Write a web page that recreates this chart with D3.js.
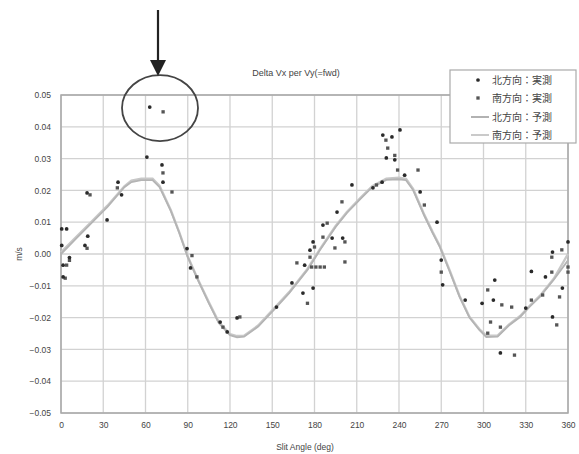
<!DOCTYPE html>
<html>
<head>
<meta charset="utf-8">
<script src="https://cdn.jsdelivr.net/npm/d3@7"></script>
<style>
  body { margin: 0; background: #fff; }
  text { font-family: "Liberation Sans", Arial, sans-serif; fill: #444; }
</style>
</head>
<body>
<script>
// chart data
var title = "Delta Vx per Vy(=fwd)";
var xLabel = "Slit Angle (deg)";
var yLabel = "m/s";
var xTicks = [0, 30, 60, 90, 120, 150, 180, 210, 240, 270, 300, 330, 360];
var yTicks = [0.05, 0.04, 0.03, 0.02, 0.01, 0, -0.01, -0.02, -0.03, -0.04, -0.05];
var legendNames = ["北方向：実測", "南方向：実測", "北方向：予測", "南方向：予測"];

// predicted curves
var predAngle = [0, 10, 20, 33, 45, 50, 57, 65, 70, 78, 84, 90, 97, 105, 112, 120, 125, 130, 140, 153, 162, 175, 184, 195, 203, 213, 221, 231, 240, 245, 250, 258, 264, 269, 276, 283, 290, 297, 302, 310, 318, 326, 333, 340, 350, 360];
var predNorth = [0.000, 0.0045, 0.009, 0.0148, 0.021, 0.0226, 0.0232, 0.0232, 0.021, 0.0135, 0.0066, -0.001, -0.008, -0.0155, -0.0217, -0.0255, -0.0262, -0.026, -0.0228, -0.0167, -0.0123, -0.005, 0.0013, 0.0085, 0.0129, 0.0175, 0.021, 0.0233, 0.0235, 0.0232, 0.0201, 0.012, 0.0065, 0.0022, -0.0055, -0.0135, -0.020, -0.0239, -0.0261, -0.026, -0.0225, -0.0198, -0.0165, -0.0135, -0.008, -0.002];
var predSouth = [0.0005, 0.005, 0.0094, 0.0152, 0.0213, 0.0231, 0.0237, 0.0237, 0.0214, 0.0138, 0.0068, -0.0008, -0.0078, -0.0152, -0.0214, -0.0252, -0.0258, -0.0257, -0.0225, -0.0163, -0.012, -0.0047, 0.0016, 0.0088, 0.0132, 0.0178, 0.0213, 0.0237, 0.024, 0.0236, 0.0205, 0.0123, 0.0068, 0.0025, -0.0052, -0.0132, -0.0197, -0.0236, -0.0257, -0.0257, -0.0222, -0.0195, -0.0162, -0.0132, -0.0077, 0.0];

// measured points
var northAngle = [0.5, 4, 0.5, 6, 1.5, 1.5, 18.5, 19, 17, 32.7, 40.5, 43, 61, 63, 71.7, 72.4, 89.5, 92, 113, 118, 125, 153, 164, 171.8, 173, 176.8, 179, 179, 186, 192.5, 196, 200, 206.6, 221.5, 228, 231, 237, 228.5, 235, 240.7, 244, 255, 267, 270, 271, 287, 299, 308, 307, 312, 330, 334, 344, 349, 360, 356, 349];
var northVal = [0.0079, 0.0079, 0.0027, -0.0011, -0.0035, -0.0072, 0.0192, 0.0056, 0.0027, 0.0107, 0.0226, 0.0186, 0.0305, 0.0462, 0.028, 0.0226, 0.0017, -0.0044, -0.0214, -0.0245, -0.0201, -0.0167, -0.0091, -0.0123, -0.0035, 0.0012, 0.0038, -0.0107, 0.0091, 0.005, 0.0132, 0.005, 0.0217, 0.0208, 0.0226, 0.0302, 0.0296, 0.0374, 0.0368, 0.039, 0.0248, 0.0195, 0.01, -0.0019, -0.0097, -0.0145, -0.0155, -0.0082, -0.0145, -0.0311, -0.017, -0.0055, -0.0072, 0.0006, 0.0038, -0.0107, -0.0198];
var southAngle = [4, 6, 3, 20.6, 18.5, 40, 72.5, 72.4, 78.8, 93, 96.5, 115, 127, 167.5, 175, 178, 181, 184, 187, 176.8, 180, 186, 189, 194.5, 201.6, 201.6, 199.5, 224, 239, 230.7, 232, 237, 253.5, 258, 270, 303, 313, 320, 305, 303, 312, 322, 334, 342, 348.5, 348.5, 355.6, 360, 360, 354, 352];
var southVal = [-0.0035, -0.002, -0.0076, 0.0186, 0.0018, 0.0208, 0.0447, 0.0255, 0.0195, -0.0005, -0.0072, -0.023, -0.0198, -0.0028, -0.0155, -0.0041, -0.0041, -0.0041, -0.0041, -0.001, 0.0022, 0.0053, 0.0097, 0.0019, 0.0038, -0.0025, 0.0164, 0.0217, 0.0264, 0.0358, 0.0333, 0.031, 0.0264, 0.0154, -0.0057, -0.0113, -0.016, -0.0167, -0.0214, -0.0249, -0.023, -0.0318, -0.0145, -0.0129, -0.001, -0.0057, 0.0013, -0.0041, -0.0057, -0.0135, -0.0223];

var width = 579, height = 454;
var margin = {left: 61, right: 11, top: 95, bottom: 41};

var svg = d3.select("body").append("svg")
    .attr("width", width)
    .attr("height", height);

var x = d3.scaleLinear().domain([0, 360]).range([margin.left, width - margin.right]);
var y = d3.scaleLinear().domain([-0.05, 0.05]).range([height - margin.bottom, margin.top]);

// grid
svg.append("g").selectAll("line.v").data(xTicks).enter().append("line")
    .attr("x1", function(d) { return x(d); }).attr("x2", function(d) { return x(d); })
    .attr("y1", y(0.05)).attr("y2", y(-0.05))
    .attr("stroke", "#d2d2d2").attr("stroke-width", 1.3);
svg.append("g").selectAll("line.h").data(yTicks).enter().append("line")
    .attr("y1", function(d) { return y(d); }).attr("y2", function(d) { return y(d); })
    .attr("x1", x(0)).attr("x2", x(360))
    .attr("stroke", "#d2d2d2").attr("stroke-width", 1.3);

// frame
svg.append("rect")
    .attr("x", x(0)).attr("y", y(0.05))
    .attr("width", x(360) - x(0)).attr("height", y(-0.05) - y(0.05))
    .attr("fill", "none").attr("stroke", "#a8a8a8").attr("stroke-width", 1.5);

// axes
var xAxis = svg.append("g")
    .attr("transform", "translate(0," + y(-0.05) + ")")
    .call(d3.axisBottom(x).tickValues(xTicks).tickSize(0).tickPadding(9));
var yAxis = svg.append("g")
    .attr("transform", "translate(" + x(0) + ",0)")
    .call(d3.axisLeft(y).tickValues(yTicks).tickSize(0).tickPadding(10).tickFormat(d3.format(".2f")));
[xAxis, yAxis].forEach(function(a) {
    a.select(".domain").remove();
    a.selectAll("text").style("font-size", "8.5px").attr("fill", "#666");
});

svg.append("text").attr("x", 296).attr("y", 76).attr("text-anchor", "middle")
    .style("font-size", "9px").text(title);
svg.append("text").attr("x", 305).attr("y", 450).attr("text-anchor", "middle")
    .style("font-size", "8.5px").text(xLabel);
svg.append("text").attr("transform", "translate(22," + y(0) + ") rotate(-90)")
    .attr("text-anchor", "middle").style("font-size", "8.5px").text(yLabel);

// predicted lines
var line = d3.line()
    .x(function(d) { return x(d[0]); })
    .y(function(d) { return y(d[1]); });
svg.append("path").datum(d3.zip(predAngle, predSouth))
    .attr("d", line).attr("fill", "none").attr("stroke", "#c8c8c8").attr("stroke-width", 2.4);
svg.append("path").datum(d3.zip(predAngle, predNorth))
    .attr("d", line).attr("fill", "none").attr("stroke", "#b4b4b4").attr("stroke-width", 1.8);

// measured points
var sq = d3.symbol().type(d3.symbolSquare).size(11);
var dot = d3.symbol().type(d3.symbolCircle).size(11);
svg.append("g").selectAll("path").data(d3.zip(southAngle, southVal)).enter().append("path")
    .attr("d", sq)
    .attr("transform", function(d) { return "translate(" + x(d[0]) + "," + y(d[1]) + ")"; })
    .attr("fill", "#555");
svg.append("g").selectAll("path").data(d3.zip(northAngle, northVal)).enter().append("path")
    .attr("d", dot)
    .attr("transform", function(d) { return "translate(" + x(d[0]) + "," + y(d[1]) + ")"; })
    .attr("fill", "#2a2a2a");

// legend
var lg = svg.append("g");
lg.append("rect").attr("x", 450).attr("y", 70).attr("width", 126).attr("height", 73)
    .attr("fill", "#fff").attr("stroke", "#aaa").attr("stroke-width", 1.2);
var ly = [80, 98, 117, 135];
legendNames.forEach(function(name, i) {
    if (i === 0) lg.append("path").attr("d", dot).attr("transform", "translate(478," + ly[i] + ")").attr("fill", "#2a2a2a");
    if (i === 1) lg.append("path").attr("d", sq).attr("transform", "translate(478," + ly[i] + ")").attr("fill", "#555");
    if (i >= 2) lg.append("line").attr("x1", 471).attr("x2", 489).attr("y1", ly[i]).attr("y2", ly[i])
        .attr("stroke", i === 2 ? "#999" : "#b8b8b8").attr("stroke-width", 1.5);
    lg.append("text").attr("x", 492).attr("y", ly[i] + 4)
        .style("font-family", "'Noto Sans CJK JP', sans-serif").style("font-size", "10px").attr("fill", "#666")
        .text(name);
});

// annotation: circle around the two outliers and arrow pointing to it
var cx = x(70.3), cy = y(0.0459);
svg.append("ellipse").attr("cx", cx).attr("cy", cy).attr("rx", 38).attr("ry", 33)
    .attr("fill", "none").attr("stroke", "#444").attr("stroke-width", 1.8);
svg.append("line").attr("x1", 158).attr("x2", 158).attr("y1", 10).attr("y2", 62)
    .attr("stroke", "#222").attr("stroke-width", 2.2);
svg.append("path").attr("d", "M150,60 L166,60 L158,76 Z").attr("fill", "#222");
</script>
</body>
</html>
